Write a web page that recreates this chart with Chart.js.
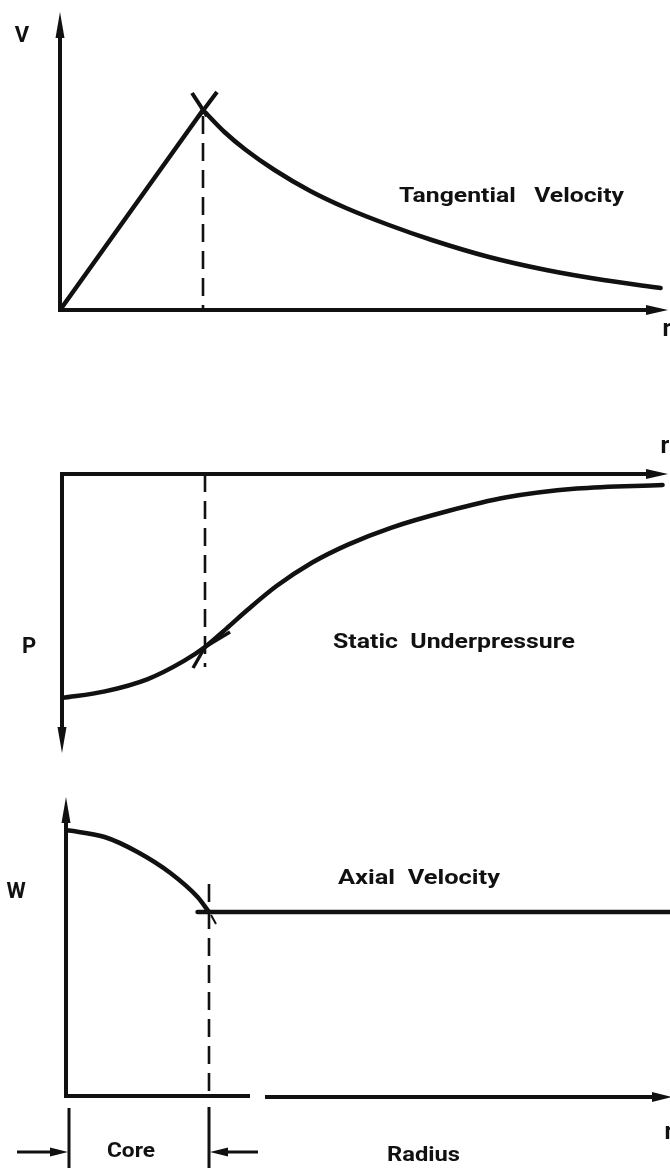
<!DOCTYPE html>
<html>
<head>
<meta charset="utf-8">
<script src="https://cdn.jsdelivr.net/npm/chart.js@4.4.1/dist/chart.umd.min.js"></script>
<style>
  html, body { margin: 0; padding: 0; background: #fff; }
  #wrap { position: relative; width: 670px; height: 1170px; overflow: hidden; }
  #wrap canvas { position: absolute; left: 0; }
</style>
</head>
<body>
<div id="wrap">
  <canvas id="tangential" width="670" height="345" style="top:0px"></canvas>
  <canvas id="pressure" width="670" height="350" style="top:420px"></canvas>
  <canvas id="axial" width="670" height="400" style="top:770px"></canvas>
</div>
<script>
// r is in core radii, every value is normalised
const coreR = [0, 1];
const coreV = [0, 1];
const outerR = [1, 1.15, 1.3, 1.5, 1.75, 2.0, 2.3, 2.6, 3.0, 3.4, 3.8, 4.2];
const outerV = [1, 0.89, 0.80, 0.70, 0.595, 0.51, 0.425, 0.35, 0.265, 0.20, 0.15, 0.11];

const pressR = [0, 0.3, 0.6, 0.85, 1, 1.15, 1.3, 1.5, 1.75, 2.0, 2.3, 2.7, 3.1, 3.6, 4.2];
const pressP = [1.0, 0.97, 0.915, 0.835, 0.772, 0.69, 0.605, 0.50, 0.395, 0.315, 0.24, 0.165, 0.105, 0.065, 0.049];

const axialCoreR = [0, 0.27, 0.5, 0.73, 0.92, 1];
const axialCoreW = [1.33, 1.295, 1.22, 1.115, 0.995, 0.92];
const axialOuterR = [0.92, 4.3];
const axialOuterW = [0.92, 0.92];

const ink = '#111';
const face = 'Roboto, "DejaVu Sans", sans-serif';
const pxPerCore = 143;

function pts(xs, ys) {
  return xs.map((x, i) => ({ x: x, y: ys[i] }));
}

function seg(ctx, x1, y1, x2, y2) {
  ctx.beginPath();
  ctx.moveTo(x1, y1);
  ctx.lineTo(x2, y2);
  ctx.stroke();
}

function head(ctx, x, y, angle, len, half) {
  ctx.save();
  ctx.translate(x, y);
  ctx.rotate(angle);
  ctx.beginPath();
  ctx.moveTo(0, 0);
  ctx.lineTo(-len, -half);
  ctx.lineTo(-len, half);
  ctx.closePath();
  ctx.fill();
  ctx.restore();
}

function letter(ctx, text, x, y, size) {
  ctx.font = 'bold ' + size + 'px ' + face;
  ctx.textAlign = 'center';
  ctx.textBaseline = 'middle';
  ctx.fillText(text, x, y);
}

// draws text squeezed/stretched between left and right
function spread(ctx, text, left, right, y, size) {
  ctx.save();
  ctx.font = 'bold ' + size + 'px ' + face;
  ctx.textAlign = 'left';
  ctx.textBaseline = 'middle';
  const w = ctx.measureText(text).width;
  ctx.translate(left, y);
  ctx.scale((right - left) / w, 1);
  ctx.fillText(text, 0, 0);
  ctx.restore();
}

function pen(ctx, width) {
  ctx.setLineDash([]);
  ctx.lineWidth = width;
  ctx.strokeStyle = ink;
  ctx.fillStyle = ink;
  ctx.lineCap = 'butt';
}

function options(padLeft, top, bottom, yMin, yMax, reverse) {
  return {
    responsive: false,
    animation: false,
    events: [],
    layout: { padding: { left: padLeft, right: 0, top: top, bottom: bottom } },
    plugins: { legend: { display: false }, tooltip: { enabled: false } },
    elements: {
      point: { radius: 0 },
      line: { borderColor: ink, borderWidth: 4.5, borderCapStyle: 'round', borderJoinStyle: 'round', fill: false }
    },
    scales: {
      x: { type: 'linear', display: false, min: 0, max: (670 - padLeft) / pxPerCore },
      y: { type: 'linear', display: false, min: yMin, max: yMax, reverse: reverse }
    }
  };
}

// ---- Tangential velocity ----
new Chart(document.getElementById('tangential'), {
  type: 'line',
  data: {
    datasets: [
      { data: pts(coreR, coreV), tension: 0 },
      { data: pts(outerR, outerV), cubicInterpolationMode: 'monotone' }
    ]
  },
  options: options(60, 12, 35, 0, 1.49, false),
  plugins: [{
    id: 'frameV',
    beforeDatasetsDraw(chart) {
      const ctx = chart.ctx, xs = chart.scales.x, ys = chart.scales.y, a = chart.chartArea;
      const x0 = xs.getPixelForValue(0), y0 = ys.getPixelForValue(0), xc = xs.getPixelForValue(1);
      ctx.save();
      pen(ctx, 4);
      seg(ctx, x0, y0 + 2, x0, a.top + 18);
      head(ctx, x0, a.top, -Math.PI / 2, 26, 4.5);
      seg(ctx, x0, y0, chart.width - 18, y0);
      head(ctx, chart.width - 2, y0, 0, 22, 5);
      pen(ctx, 2.6);
      ctx.setLineDash([18, 9]);
      seg(ctx, xc, ys.getPixelForValue(1) + 6, xc, y0);
      ctx.setLineDash([]);
      letter(ctx, 'V', 22, 36, 22);
      letter(ctx, 'r', 667, 330, 24);
      spread(ctx, 'Tangential   Velocity', 399, 624, 197, 20);
      ctx.restore();
    },
    afterDatasetsDraw(chart) {
      const ctx = chart.ctx, xs = chart.scales.x, ys = chart.scales.y;
      const px = xs.getPixelForValue(1), py = ys.getPixelForValue(1);
      ctx.save();
      pen(ctx, 4);
      seg(ctx, px - 11, py - 17, px + 4, py + 6);
      seg(ctx, px + 14, py - 18, px - 4, py + 6);
      ctx.restore();
    }
  }]
});

// ---- Static underpressure (p grows downward) ----
new Chart(document.getElementById('pressure'), {
  type: 'line',
  data: {
    datasets: [
      { data: pts(pressR, pressP), cubicInterpolationMode: 'monotone' }
    ]
  },
  options: options(62, 54, 17, 0, 1.245, true),
  plugins: [{
    id: 'frameP',
    beforeDatasetsDraw(chart) {
      const ctx = chart.ctx, xs = chart.scales.x, ys = chart.scales.y, a = chart.chartArea;
      const x0 = xs.getPixelForValue(0), y0 = ys.getPixelForValue(0), xc = xs.getPixelForValue(1);
      ctx.save();
      pen(ctx, 4);
      seg(ctx, x0 - 2, y0, chart.width - 18, y0);
      head(ctx, chart.width - 2, y0, 0, 22, 5);
      seg(ctx, x0, y0, x0, a.bottom - 18);
      head(ctx, x0, a.bottom, Math.PI / 2, 26, 4.5);
      pen(ctx, 2.6);
      ctx.setLineDash([18, 9]);
      seg(ctx, xc, y0, xc, 247);
      ctx.setLineDash([]);
      letter(ctx, 'r', 665, 27, 24);
      letter(ctx, 'P', 29, 227, 22);
      spread(ctx, 'Static  Underpressure', 333, 575, 223, 20);
      ctx.restore();
    },
    afterDatasetsDraw(chart) {
      const ctx = chart.ctx, xs = chart.scales.x, ys = chart.scales.y;
      const px = xs.getPixelForValue(1), py = ys.getPixelForValue(0.772);
      ctx.save();
      pen(ctx, 3.5);
      seg(ctx, px, py, px + 25, py - 15);
      seg(ctx, px, py, px - 12, py + 21);
      ctx.restore();
    }
  }]
});

// ---- Axial velocity ----
new Chart(document.getElementById('axial'), {
  type: 'line',
  data: {
    datasets: [
      { data: pts(axialCoreR, axialCoreW), cubicInterpolationMode: 'monotone' },
      { data: pts(axialOuterR, axialOuterW), tension: 0 }
    ]
  },
  options: options(66, 27, 74, 0, 1.495, false),
  plugins: [{
    id: 'frameW',
    beforeDatasetsDraw(chart) {
      const ctx = chart.ctx, xs = chart.scales.x, ys = chart.scales.y, a = chart.chartArea;
      const x0 = xs.getPixelForValue(0), y0 = ys.getPixelForValue(0), xc = xs.getPixelForValue(1);
      ctx.save();
      pen(ctx, 4);
      seg(ctx, x0, y0 + 2, x0, a.top + 18);
      head(ctx, x0, a.top, -Math.PI / 2, 26, 4.5);
      seg(ctx, x0 - 2, y0, 250, y0);
      seg(ctx, 265, y0 + 1, chart.width - 14, y0 + 1);
      head(ctx, chart.width + 2, y0 + 1, 0, 20, 5);
      pen(ctx, 2.6);
      ctx.setLineDash([18, 9]);
      seg(ctx, xc, 114, xc, y0);
      // core dimension marks
      pen(ctx, 3);
      seg(ctx, x0 + 3, y0 + 12, x0 + 3, chart.height - 2);
      seg(ctx, xc, y0 + 11, xc, chart.height - 2);
      seg(ctx, 17, 382, x0 - 10, 382);
      head(ctx, x0 + 2, 382, 0, 18, 4.5);
      seg(ctx, xc + 10, 382, 258, 382);
      head(ctx, xc + 1, 382, Math.PI, 18, 4.5);
      letter(ctx, 'W', 16, 122, 22);
      letter(ctx, 'r', 669, 363, 24);
      spread(ctx, 'Axial  Velocity', 338, 500, 109, 20);
      spread(ctx, 'Core', 107, 155, 382, 20);
      spread(ctx, 'Radius', 387, 460, 386, 20);
      ctx.restore();
    },
    afterDatasetsDraw(chart) {
      const ctx = chart.ctx, xs = chart.scales.x, ys = chart.scales.y;
      const px = xs.getPixelForValue(1), py = ys.getPixelForValue(0.92);
      ctx.save();
      pen(ctx, 2);
      seg(ctx, px + 2, py + 3, px + 7, py + 12);
      ctx.restore();
    }
  }]
});
</script>
</body>
</html>
